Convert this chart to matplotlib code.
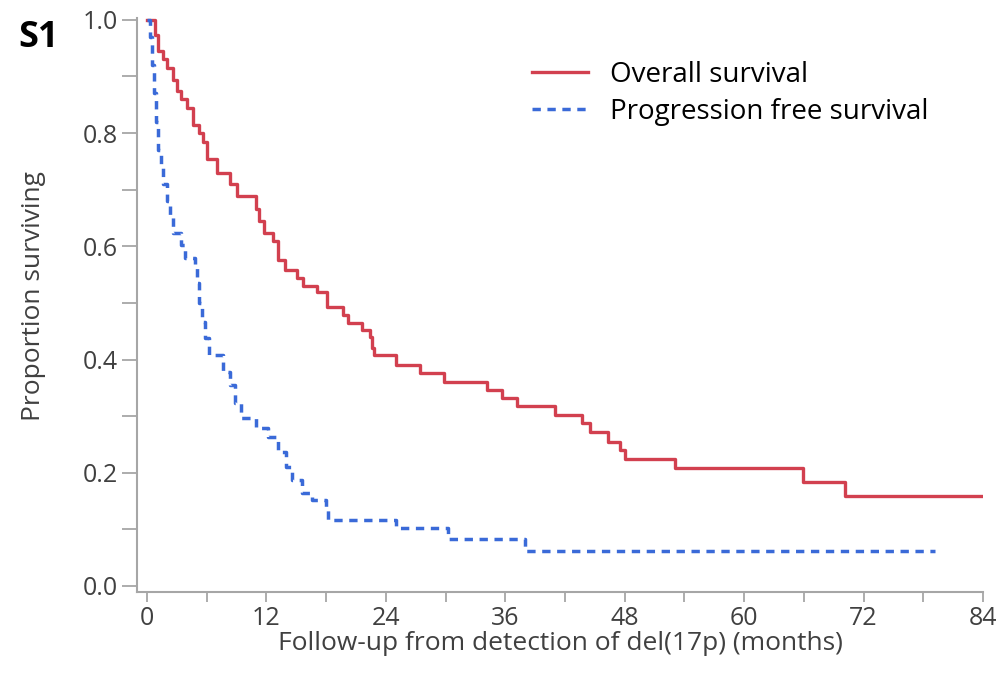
import numpy as np
import matplotlib
matplotlib.use("Agg")
import matplotlib.pyplot as plt
from matplotlib.ticker import MultipleLocator

# --- Datos (Kaplan-Meier, escalones) ---
os_months = [0, 0.8, 1.1, 1.6, 2.0, 2.6, 3.0, 3.4, 4.0, 4.6, 5.2, 5.6, 6.0, 7.0,
             8.3, 9.0, 11.0, 11.3, 11.8, 12.7, 13.2, 13.9, 15.1, 15.7, 17.1,
             18.1, 19.7, 20.2, 21.6, 22.4, 22.6, 22.8, 25.0, 27.4, 29.8, 34.2,
             35.7, 37.2, 41.0, 43.7, 44.5, 46.3, 47.5, 48.0, 53.1, 65.9, 70.1, 84.0]
os_surv = [1.0, 0.973, 0.945, 0.93, 0.915, 0.894, 0.875, 0.86, 0.845, 0.815, 0.80,
           0.785, 0.755, 0.73, 0.71, 0.688, 0.665, 0.645, 0.623, 0.61, 0.575,
           0.558, 0.544, 0.53, 0.52, 0.493, 0.479, 0.465, 0.452, 0.44, 0.42,
           0.408, 0.39, 0.376, 0.361, 0.346, 0.332, 0.317, 0.302, 0.288, 0.272,
           0.255, 0.24, 0.224, 0.208, 0.184, 0.159, 0.159]

pfs_months = [0, 0.3, 0.5, 0.7, 0.9, 1.1, 1.4, 1.6, 2.0, 2.3, 2.6, 3.4, 3.8, 4.8,
              5.0, 5.2, 5.5, 5.8, 6.2, 7.6, 8.3, 8.8, 9.4, 11.0, 12.2, 13.2,
              14.0, 14.6, 15.6, 16.6, 18.0, 18.2, 25.0, 30.2, 38.0, 79.2]
pfs_surv = [1.0, 0.97, 0.92, 0.87, 0.82, 0.77, 0.74, 0.71, 0.68, 0.652, 0.624,
            0.602, 0.58, 0.563, 0.535, 0.50, 0.467, 0.438, 0.408, 0.378, 0.355,
            0.323, 0.297, 0.279, 0.263, 0.237, 0.21, 0.187, 0.164, 0.152, 0.14,
            0.117, 0.102, 0.083, 0.062, 0.062]

x_ticks = [0, 12, 24, 36, 48, 60, 72, 84]
y_ticks = [0.0, 0.2, 0.4, 0.6, 0.8, 1.0]

plt.rcParams['font.family'] = ['Open Sans', 'DejaVu Sans']

fig = plt.figure(figsize=(10.03, 6.76), dpi=100)
ax = fig.add_axes([0.1366, 0.124, 0.8434, 0.850])

ax.step(os_months, os_surv, where='post', color='#d2404f', lw=2.4,
        label='Overall survival')
ax.step(pfs_months, pfs_surv, where='post', color='#3a6ad8', lw=2.5,
        linestyle=(0, (2.4, 1.9)), label='Progression free survival')

ax.set_xlim(-1, 84)
ax.set_ylim(-0.011, 1.004)
ax.set_xticks(x_ticks)
ax.set_yticks(y_ticks)
ax.set_yticklabels([f'{v:.1f}' for v in y_ticks])
ax.xaxis.set_minor_locator(MultipleLocator(6))
ax.yaxis.set_minor_locator(MultipleLocator(0.1))

for s in ['top', 'right']:
    ax.spines[s].set_visible(False)
for s in ['left', 'bottom']:
    ax.spines[s].set_color('#a6a6a6')
    ax.spines[s].set_linewidth(1.5)

ax.tick_params(which='both', color='#a6a6a6', width=1.3, labelcolor='#404040',
               labelsize=18)
ax.tick_params(axis='y', which='both', length=11, pad=3)
ax.tick_params(axis='x', which='both', length=7, pad=3)

ax.set_xlabel('Follow-up from detection of del(17p) (months)', fontsize=19,
              color='#404040', labelpad=0)
ax.set_ylabel('Proportion surviving', fontsize=19, color='#404040', labelpad=14)
ax.yaxis.set_label_coords(-0.108, 0.515)

ax.legend(loc='upper right', bbox_to_anchor=(0.965, 0.968), frameon=False,
          fontsize=20, handlelength=2.0, handletextpad=0.8, labelspacing=0.32)

fig.text(0.018, 0.944, 'S1', fontsize=26, fontweight='bold', color='black',
         va='center', ha='left')

fig.savefig('out.png', dpi=100)
